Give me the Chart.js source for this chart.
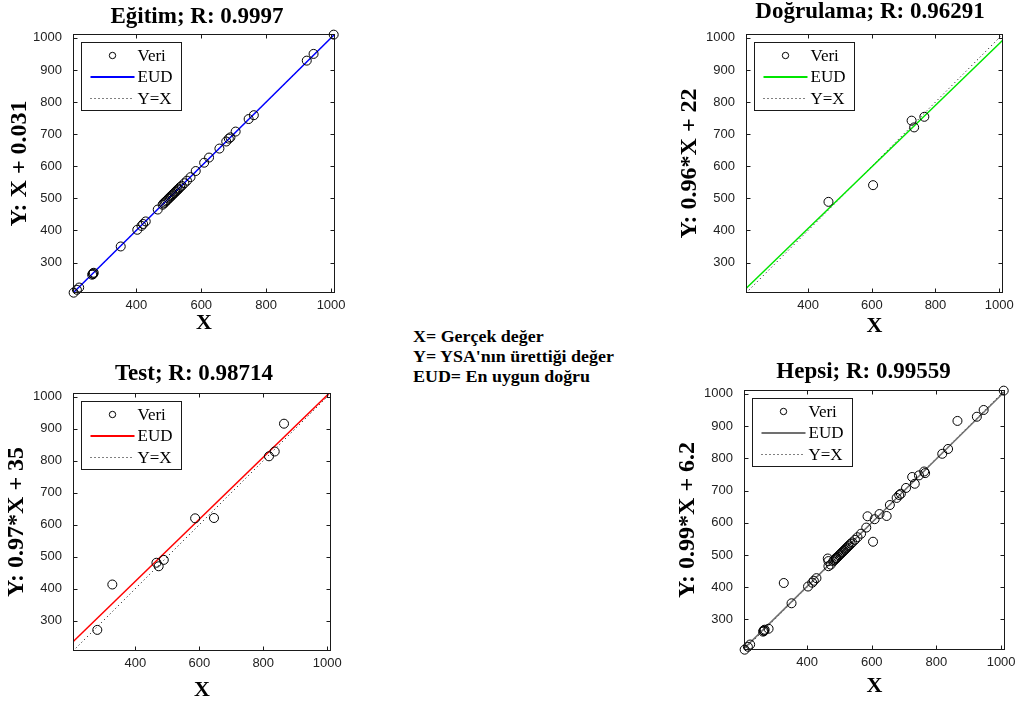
<!DOCTYPE html>
<html>
<head>
<meta charset="utf-8">
<script src="https://cdn.jsdelivr.net/npm/chart.js@4.4.0/dist/chart.umd.min.js"></script>
<style>
    html, body { margin: 0; padding: 0; background: #fff; width: 1018px; height: 702px; overflow: hidden; }
    canvas { position: absolute; }
    #notes {
        position: absolute; left: 413px; top: 327px;
        font: bold 16px "Liberation Serif", "Times New Roman", serif;
        line-height: 20px; color: #000; white-space: nowrap;
        transform: scaleX(1.12); transform-origin: left top;
    }
</style>
</head>
<body>
<canvas id="panel0"></canvas>
<canvas id="panel1"></canvas>
<canvas id="panel2"></canvas>
<canvas id="panel3"></canvas>
<div id="notes">X= Gerçek değer<br>Y= YSA'nın ürettiği değer<br>EUD= En uygun doğru</div>

<script>
// Axis limits and ticks shared by the four regression panels
const axisMin = 205;
const axisMax = 1012;
const xTickValues = [400, 600, 800, 1000];
const yTickValues = [300, 400, 500, 600, 700, 800, 900, 1000];

const panelTitles = ['Eğitim; R: 0.9997', 'Doğrulama; R: 0.96291', 'Test; R: 0.98714', 'Hepsi; R: 0.99559'];
const fitLabels = ['Y: X + 0.031', 'Y: 0.96*X + 22', 'Y: 0.97*X + 35', 'Y: 0.99*X + 6.2'];
const fitSlopes = [1, 0.96, 0.97, 0.99];
const fitIntercepts = [0.031, 22, 35, 6.2];
const fitColors = ['#0000ff', '#00e600', '#ff0000', '#707070'];
const legendLabels = ['Veri', 'EUD', 'Y=X'];

// Training set (target, output)
const trainX = [207, 217, 224, 264, 266, 267, 269, 352, 403, 416, 421, 429, 466, 481, 484, 488, 491, 495,
                499, 503, 506, 510, 513, 517, 520, 524, 527, 531, 535, 540, 548, 556, 567, 583, 609, 624,
                656, 677, 685, 690, 706, 746, 762, 925, 946, 1008];
const trainY = [206, 215, 222, 262, 266, 264, 268, 350, 402, 414, 420, 428, 465, 480, 484, 487, 491, 494,
                499, 502, 506, 509, 513, 516, 520, 523, 527, 530, 535, 539, 547, 555, 566, 585, 611, 627,
                655, 677, 686, 690, 708, 747, 759, 929, 950, 1010];

// Validation set
const valX = [464, 604, 725, 733, 765];
const valY = [489, 541, 742, 721, 754];

// Test set
const testX = [281, 328, 466, 473, 489, 587, 646, 818, 836, 865];
const testY = [271, 413, 481, 470, 490, 620, 621, 814, 829, 916];

// "Hepsi" panel shows every sample
const allX = trainX.concat(valX, testX);
const allY = trainY.concat(valY, testY);

const serif = '"Liberation Serif", "Times New Roman", serif';
const sans = '"Liberation Sans", Arial, sans-serif';

// Page placement of each panel; area = [left, top, right, bottom] of the plot box
const layouts = [
    { left: 0,   top: 0,   width: 394, height: 340, area: [73, 34, 335, 293],  titleY: 17,  xTitleY: 323.5, yTitleX: 20 },
    { left: 674, top: -4,  width: 392, height: 349, area: [746, 34, 1003, 293], titleY: 12,  xTitleY: 326.5, yTitleX: 689.5 },
    { left: 0,   top: 352, width: 388, height: 354, area: [73, 393, 331, 651],  titleY: 374, xTitleY: 690,   yTitleX: 17 },
    { left: 672, top: 352, width: 383, height: 354, area: [744, 390, 1005, 650], titleY: 372, xTitleY: 686.5, yTitleX: 688 }
];

// Box around the axes with inward ticks on all four sides
const framePlugin = {
    id: 'frame',
    afterDatasetsDraw(chart) {
        const { ctx, chartArea: a, scales } = chart;
        const l = Math.round(a.left) + 0.5, r = Math.round(a.right) - 0.5;
        const t = Math.round(a.top) + 0.5, b = Math.round(a.bottom) - 0.5;
        ctx.save();
        ctx.strokeStyle = '#1a1a1a';
        ctx.lineWidth = 1;
        ctx.strokeRect(l, t, r - l, b - t);
        ctx.beginPath();
        scales.x.ticks.forEach(tk => {
            const px = Math.round(scales.x.getPixelForValue(tk.value)) + 0.5;
            ctx.moveTo(px, b); ctx.lineTo(px, b - 4);
            ctx.moveTo(px, t); ctx.lineTo(px, t + 4);
        });
        scales.y.ticks.forEach(tk => {
            const py = Math.round(scales.y.getPixelForValue(tk.value)) + 0.5;
            ctx.moveTo(l, py); ctx.lineTo(l + 4, py);
            ctx.moveTo(r, py); ctx.lineTo(r - 4, py);
        });
        ctx.stroke();
        ctx.restore();
    }
};

// Legend box drawn inside the upper-left corner of the plot
const insetLegendPlugin = {
    id: 'insetLegend',
    afterDraw(chart) {
        const { ctx, chartArea: a } = chart;
        const ds = chart.data.datasets;
        const x0 = Math.round(a.left) + 8.5, y0 = Math.round(a.top) + 8.5;
        const w = 100, h = 68;
        ctx.save();
        ctx.fillStyle = '#fff';
        ctx.fillRect(x0, y0, w, h);
        ctx.strokeStyle = '#1a1a1a';
        ctx.lineWidth = 1;
        ctx.strokeRect(x0, y0, w, h);

        const rows = [13, 34.5, 56];
        // marker row
        ctx.beginPath();
        ctx.arc(x0 + 31, y0 + rows[0], 3.2, 0, Math.PI * 2);
        ctx.strokeStyle = '#000';
        ctx.stroke();
        // fit line row
        ctx.beginPath();
        ctx.strokeStyle = ds[1].borderColor;
        ctx.lineWidth = 2;
        ctx.moveTo(x0 + 9, y0 + rows[1]); ctx.lineTo(x0 + 53, y0 + rows[1]);
        ctx.stroke();
        // identity line row
        ctx.beginPath();
        ctx.strokeStyle = '#000';
        ctx.lineWidth = 1;
        ctx.setLineDash([1, 3]);
        ctx.moveTo(x0 + 9, y0 + rows[2]); ctx.lineTo(x0 + 53, y0 + rows[2]);
        ctx.stroke();
        ctx.setLineDash([]);

        ctx.fillStyle = '#000';
        ctx.font = '17px ' + serif;
        ctx.textAlign = 'left';
        ctx.textBaseline = 'middle';
        ds.forEach((d, k) => ctx.fillText(d.label, x0 + 56, y0 + rows[k] + 1));
        ctx.restore();
    }
};

function makePanel(i, xs, ys) {
    const L = layouts[i];
    const [al, at, ar, ab] = L.area;
    const canvas = document.getElementById('panel' + i);
    canvas.width = L.width;
    canvas.height = L.height;
    canvas.style.left = L.left + 'px';
    canvas.style.top = L.top + 'px';

    const titleLH = 23 * 1.2;
    const xTitleLH = 22 * 1.2;
    const yTitleLH = 24 * 1.2;
    const titleTop = L.titleY - L.top - titleLH / 2;
    const titleBottom = (at - L.top) - titleLH - titleTop;
    const canvasBottom = L.top + L.height;
    const rightGap = L.left + L.width - ar;

    const m = fitSlopes[i], b = fitIntercepts[i];
    const tickFont = { family: sans, size: 13 };

    new Chart(canvas, {
        type: 'scatter',
        data: {
            datasets: [
                {
                    label: legendLabels[0],
                    data: xs.map((x, k) => ({ x: x, y: ys[k] })),
                    pointRadius: 4.5,
                    pointBorderWidth: 1,
                    pointBorderColor: '#000',
                    pointBackgroundColor: 'rgba(0,0,0,0)',
                    clip: false
                },
                {
                    label: legendLabels[1],
                    data: [{ x: axisMin, y: m * axisMin + b }, { x: axisMax, y: m * axisMax + b }],
                    showLine: true,
                    borderColor: fitColors[i],
                    borderWidth: 1.5,
                    pointRadius: 0,
                    clip: 0
                },
                {
                    label: legendLabels[2],
                    data: [{ x: axisMin, y: axisMin }, { x: axisMax, y: axisMax }],
                    showLine: true,
                    borderColor: '#000',
                    borderWidth: 1,
                    borderDash: [1, 3],
                    pointRadius: 0,
                    clip: 0
                }
            ]
        },
        options: {
            responsive: false,
            animation: false,
            events: [],
            layout: { padding: 0 },
            plugins: {
                legend: { display: false },
                tooltip: { enabled: false },
                title: {
                    display: true,
                    text: panelTitles[i],
                    color: '#000',
                    font: { family: serif, size: 23, weight: 'bold', lineHeight: 1.2 },
                    padding: { top: titleTop, bottom: titleBottom }
                }
            },
            scales: {
                x: {
                    type: 'linear',
                    min: axisMin,
                    max: axisMax,
                    grid: { display: false, drawTicks: false },
                    border: { display: false },
                    afterBuildTicks: s => { s.ticks = xTickValues.map(v => ({ value: v })); },
                    afterFit: s => { s.height = canvasBottom - ab; },
                    ticks: { padding: 5, color: '#222', font: tickFont, callback: v => String(v) },
                    title: {
                        display: true,
                        text: 'X',
                        color: '#000',
                        font: { family: serif, size: 22, weight: 'bold', lineHeight: 1.2 },
                        padding: { top: 0, bottom: canvasBottom - L.xTitleY - xTitleLH / 2 }
                    }
                },
                y: {
                    type: 'linear',
                    min: axisMin,
                    max: axisMax,
                    grid: { display: false, drawTicks: false },
                    border: { display: false },
                    afterBuildTicks: s => { s.ticks = yTickValues.map(v => ({ value: v })); },
                    afterFit: s => { s.width = al - L.left; },
                    ticks: { padding: 11, color: '#222', font: tickFont, callback: v => String(v) },
                    title: {
                        display: true,
                        text: fitLabels[i],
                        color: '#000',
                        font: { family: serif, size: 24, weight: 'bold', lineHeight: 1.2 },
                        padding: { top: L.yTitleX - L.left - yTitleLH / 2, bottom: 0 }
                    }
                },
                // empty right-hand axis that reserves the gap right of the plot box
                yRight: {
                    type: 'linear',
                    position: 'right',
                    grid: { display: false, drawTicks: false },
                    border: { display: false },
                    ticks: { display: false },
                    afterFit: s => { s.width = rightGap; }
                }
            }
        },
        plugins: [framePlugin, insetLegendPlugin]
    });
}

makePanel(0, trainX, trainY);
makePanel(1, valX, valY);
makePanel(2, testX, testY);
makePanel(3, allX, allY);
</script>
</body>
</html>
